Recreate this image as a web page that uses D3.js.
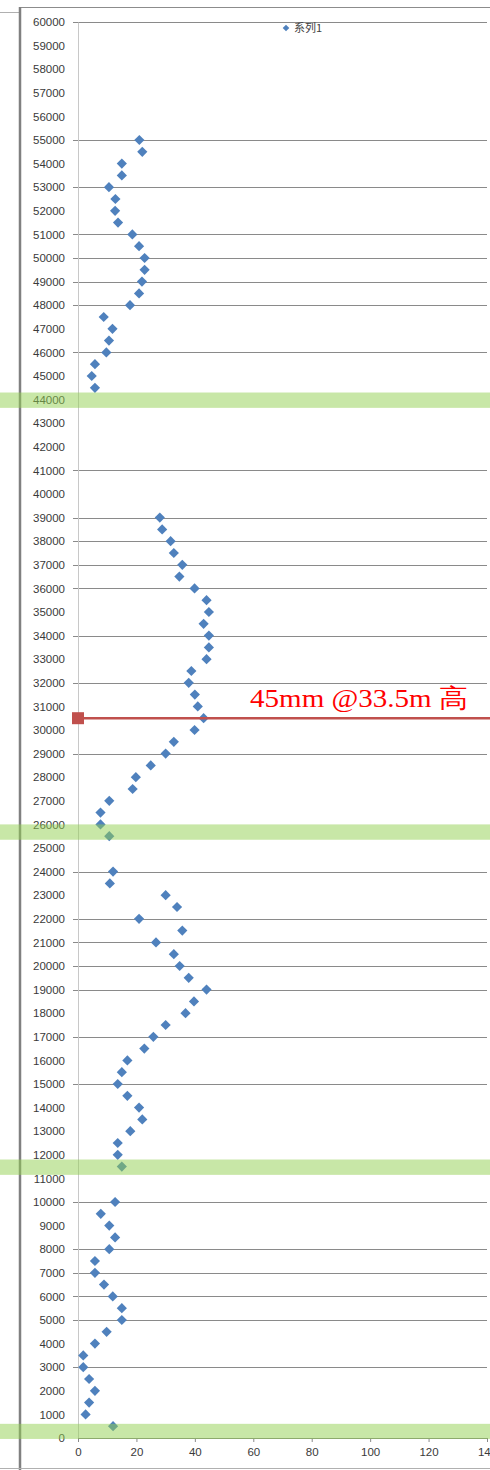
<!DOCTYPE html>
<html>
<head>
<meta charset="utf-8">
<script src="https://cdn.jsdelivr.net/npm/d3@7"></script>
<style>
  html, body { margin: 0; padding: 0; background: #fff; }
  svg { display: block; }
</style>
</head>
<body>
<div id="chart"></div>
<script>
// ---- data ----
const seriesName = "系列1";
const heights = [
  55000, 54500, 54000, 53500, 53000, 52500, 52000, 51500, 51000, 50500,
  50000, 49500, 49000, 48500, 48000, 47500, 47000, 46500, 46000, 45500,
  45000, 44500,
  39000, 38500, 38000, 37500, 37000, 36500, 36000, 35500, 35000, 34500,
  34000, 33500, 33000, 32500, 32000, 31500, 31000, 30500, 30000, 29500,
  29000, 28500, 28000, 27500, 27000, 26500, 26000, 25500,
  24000, 23500, 23000, 22500, 22000, 21500, 21000, 20500, 20000, 19500,
  19000, 18500, 18000, 17500, 17000, 16500, 16000, 15500, 15000, 14500,
  14000, 13500, 13000, 12500, 12000, 11500,
  10000, 9500, 9000, 8500, 8000, 7500, 7000, 6500, 6000, 5500,
  5000, 4500, 4000, 3500, 3000, 2500, 2000, 1500, 1000, 500
];
const values = [
  21, 22, 15, 15, 10.6, 12.8, 12.7, 13.7, 18.6, 20.9,
  22.8, 22.8, 21.9, 20.9, 17.8, 8.8, 11.8, 10.6, 9.7, 5.8,
  4.7, 5.8,
  28, 28.8, 31.7, 32.8, 35.7, 34.7, 39.9, 44, 44.8, 43,
  44.8, 44.8, 44, 38.8, 37.9, 40, 41, 43, 39.9, 32.8,
  30, 24.9, 19.8, 18.7, 10.7, 7.7, 7.7, 10.7,
  12, 10.9, 30, 33.9, 20.9, 35.7, 26.7, 32.8, 34.8, 37.9,
  44, 39.7, 36.8, 30, 25.8, 22.7, 16.9, 15, 13.6, 16.9,
  20.9, 22, 17.9, 13.6, 13.6, 15,
  12.7, 7.8, 10.7, 12.7, 10.7, 5.8, 5.8, 8.9, 11.9, 15,
  15, 9.8, 5.8, 1.8, 1.8, 3.8, 5.8, 3.8, 2.6, 12
];
const yTicks = d3.range(0, 60001, 1000);
const xTicks = [0, 20, 40, 60, 80, 100, 120, 140];
// gridlines that survive in the picture
const gridValues = [60000, 55000, 53000, 51000, 50000, 49000, 48000, 46000, 41000,
  39000, 38000, 37000, 36000, 34000, 32000, 29000, 24000, 22000, 21000, 20000,
  19000, 17000, 15000, 10000, 8000, 7000, 6000, 5000, 3000];
// highlighted bands [top, bottom] in height units
const bandTops = [44300, 26000, 11800, 600];
const bandBottoms = [43650, 25350, 11150, -40];
// marker line
const markerHeight = 30500;
const markerLabel = "45mm @33.5m 高";

// ---- layout ----
const W = 490, H = 1470;
const margin = { left: 78, right: 3, top: 22, bottom: 32 };
const svg = d3.select("#chart").append("svg").attr("width", W).attr("height", H);

const x = d3.scaleLinear().domain([0, 140]).range([margin.left, W - margin.right]);
const y = d3.scaleLinear().domain([0, 60000]).range([H - margin.bottom, margin.top]);

// outer frame
svg.append("line").attr("x1", 0).attr("x2", 20).attr("y1", 12.5).attr("y2", 12.5)
  .attr("stroke", "#b0b0b0").attr("stroke-width", 1);
svg.append("line").attr("x1", 20).attr("x2", W).attr("y1", 7.5).attr("y2", 7.5)
  .attr("stroke", "#8c8c8c").attr("stroke-width", 1);
svg.append("line").attr("x1", 20).attr("x2", 20).attr("y1", 7).attr("y2", H)
  .attr("stroke", "#808080").attr("stroke-width", 2.5);
svg.append("line").attr("x1", 0).attr("x2", W).attr("y1", 1468.5).attr("y2", 1468.5)
  .attr("stroke", "#b0b0b0").attr("stroke-width", 1);

// gridlines
svg.append("g").selectAll("line").data(gridValues).join("line")
  .attr("x1", margin.left - 5).attr("x2", W - margin.right)
  .attr("y1", d => Math.round(y(d)) + 0.5).attr("y2", d => Math.round(y(d)) + 0.5)
  .attr("stroke", "#8a8a8a").attr("stroke-width", 1);

// y axis
const yAxis = svg.append("g").attr("transform", `translate(${margin.left},0)`)
  .call(d3.axisLeft(y).tickValues(yTicks).tickSize(0).tickPadding(13).tickFormat(d3.format("d")));
yAxis.select(".domain").attr("stroke", "#c8c8c8");
yAxis.selectAll("text").attr("font-family", "'Liberation Sans', Arial, sans-serif")
  .attr("font-size", 11.5).attr("fill", "#3a3a3a");

// x axis
const xAxis = svg.append("g").attr("transform", `translate(0,${H - margin.bottom})`)
  .call(d3.axisBottom(x).tickValues(xTicks).tickSize(4).tickPadding(6).tickFormat(d3.format("d")));
xAxis.select(".domain").attr("stroke", "#8a8a8a");
xAxis.selectAll(".tick line").attr("stroke", "#8a8a8a");
xAxis.selectAll("text").attr("font-family", "'Liberation Sans', Arial, sans-serif")
  .attr("font-size", 11.5).attr("fill", "#3a3a3a");

// points
const pts = heights.map((h, i) => ({ h, v: values[i] }));
const diamond = d3.symbol().type(d3.symbolSquare).size(52);
svg.append("g").selectAll("path").data(pts).join("path")
  .attr("d", diamond)
  .attr("transform", d => `translate(${x(d.v)},${y(d.h)}) rotate(45)`)
  .attr("fill", "#4F81BD");

// legend
svg.append("path").attr("d", d3.symbol().type(d3.symbolSquare).size(22))
  .attr("transform", `translate(286,28) rotate(45)`).attr("fill", "#4F81BD");
svg.append("text").attr("x", 294).attr("y", 32).text(seriesName)
  .attr("font-family", "'Noto Sans CJK SC', sans-serif").attr("font-size", 11)
  .attr("fill", "#404040");

// green bands
svg.append("g").selectAll("rect").data(bandTops).join("rect")
  .attr("x", 0).attr("width", W)
  .attr("y", d => y(d))
  .attr("height", (d, i) => y(bandBottoms[i]) - y(d))
  .attr("fill", "#92D050").attr("fill-opacity", 0.5);

// marker line
svg.append("line").attr("x1", x(0)).attr("x2", W)
  .attr("y1", y(markerHeight)).attr("y2", y(markerHeight))
  .attr("stroke", "#C0504D").attr("stroke-width", 2.5);
svg.append("rect").attr("x", x(0) - 6).attr("y", y(markerHeight) - 6)
  .attr("width", 12).attr("height", 12).attr("fill", "#C0504D");
svg.append("text").attr("x", 250).attr("y", 707).text(markerLabel)
  .attr("font-family", "'Liberation Serif', 'Times New Roman', serif")
  .attr("font-size", 26).attr("fill", "#ff0000")
  .attr("textLength", 218).attr("lengthAdjust", "spacingAndGlyphs");
</script>
</body>
</html>
